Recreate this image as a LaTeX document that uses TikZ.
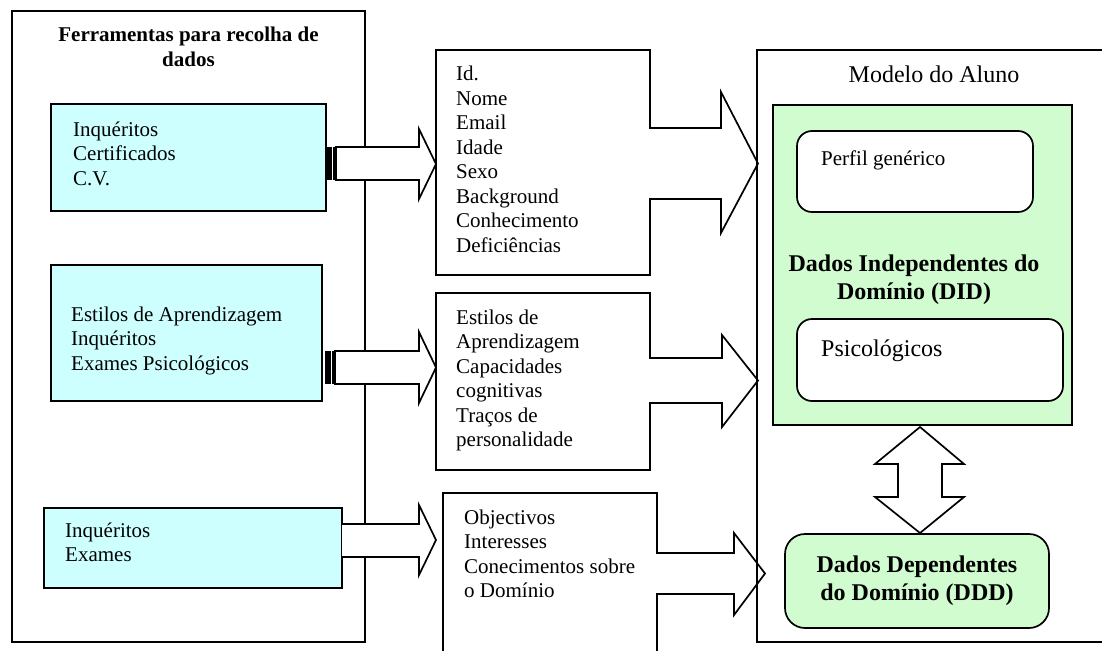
\documentclass[tikz,border=0pt]{standalone}
\usepackage{fontspec}
\setmainfont{Liberation Serif}
\usetikzlibrary{calc}

\definecolor{toolcyan}{RGB}{206,255,255}
\definecolor{modelgreen}{RGB}{208,252,208}

% multi-line text blocks whose baseline is the first line
\newcommand\linesL[1]{\begin{tabular}[t]{@{}l@{}}#1\end{tabular}}
\newcommand\linesC[1]{\begin{tabular}[t]{@{}c@{}}#1\end{tabular}}

\begin{document}
\begin{tikzpicture}[x=1pt,y=-1pt,
  frame/.style={draw, line width=1.7pt, inner sep=0, outer sep=0, anchor=north west},
  area/.style={inner sep=0, outer sep=0, anchor=north west},
  toolbox/.style={frame, line width=1.4pt, fill=toolcyan},
  softbox/.style={frame, fill=white, rounded corners=15pt},
  blockarrow/.style={draw, line width=1.7pt, fill=white, line join=miter},
  txt/.style={inner sep=0, anchor=base west, font=\fontsize{21}{24.5}\selectfont},
  bigtxt/.style={inner sep=0, anchor=base west, font=\fontsize{24}{27.5}\selectfont},
  headtxt/.style={inner sep=0, anchor=base, font=\bfseries\fontsize{21}{24.5}\selectfont},
  bighead/.style={inner sep=0, anchor=base, font=\bfseries\fontsize{24}{28.5}\selectfont},
]
\useasboundingbox (0,0) rectangle (1102,650);
\clip (0,0) rectangle (1102,650);

% ---- data collection tools ----
\node[frame, minimum width=353, minimum height=631] (tools) at (12,11) {};
\node[headtxt] (toolsT) at (188.5,42) {\linesC{Ferramentas para recolha de\\dados}};

\node[toolbox, minimum width=275, minimum height=107] (c1) at (51,104) {};
\node[txt] (c1T) at (73,136) {\linesL{Inquéritos\\Certificados\\C.V.}};

\node[toolbox, minimum width=271, minimum height=136] (c2) at (51,265) {};
\node[txt] (c2T) at (71,321) {\linesL{Estilos de Aprendizagem\\Inquéritos\\Exames Psicológicos}};

\node[toolbox, minimum width=298, minimum height=80] (c3) at (44,508) {};
\node[txt] (c3T) at (65,537) {\linesL{Inquéritos\\Exames}};

% ---- striped arrows from the tools ----
\fill (326,147) rectangle (331.5,180);
\fill (333,147) rectangle (336.5,180);
\draw[blockarrow] (336,147) -- (419,147) -- (419,129) -- (436,164) -- (419,199) -- (419,180) -- (336,180) -- cycle;

\fill (325,351) rectangle (330.5,384);
\fill (332,351) rectangle (335.5,384);
\draw[blockarrow] (335,351) -- (419,351) -- (419,332) -- (436,367.5) -- (419,403) -- (419,384) -- (335,384) -- cycle;

\draw[blockarrow] (c3.east |- 0,524) -- (419,524) -- (419,505) -- (436,540) -- (419,575) -- (419,557) -- (c3.east |- 0,557);

% ---- collected data, boxes with outgoing arrows ----
\node[area, minimum width=214, minimum height=225] (m1) at (436,50) {};
\draw[blockarrow] (m1.east |- 0,199) -- (m1.south east) -- (m1.south west) -- (m1.north west)
  -- (m1.north east) -- (m1.east |- 0,128) -- (721,128) -- (721,92) -- (758,163.5)
  -- (721,233) -- (721,199) -- cycle;
\node[txt] (m1T) at (456,81) {\linesL{Id.\\Nome\\Email\\Idade\\Sexo\\Background\\Conhecimento\\Deficiências}};

\node[area, minimum width=214, minimum height=177] (m2) at (436,293) {};
\draw[blockarrow] (m2.east |- 0,403) -- (m2.south east) -- (m2.south west) -- (m2.north west)
  -- (m2.north east) -- (m2.east |- 0,358) -- (722,358) -- (722,335) -- (758,380.5)
  -- (722,427) -- (722,403) -- cycle;
\node[txt] (m2T) at (456,324) {\linesL{Estilos de\\Aprendizagem\\Capacidades\\cognitivas\\Traços de\\personalidade}};

\node[area, minimum width=214, minimum height=200] (m3) at (443,493) {};
\draw[blockarrow] (m3.east |- 0,594) -- (m3.south east) -- (m3.south west) -- (m3.north west)
  -- (m3.north east) -- (m3.east |- 0,553) -- (734,553) -- (734,533) -- (765,573.5)
  -- (734,615) -- (734,594) -- cycle;
\node[txt] (m3T) at (464,524) {\linesL{Objectivos\\Interesses\\Conecimentos sobre\\o Domínio}};

% ---- student model ----
\node[frame, minimum width=355, minimum height=592] (model) at (757,50) {};
\node[inner sep=0, anchor=base, font=\fontsize{24}{27.5}\selectfont] (modelT) at (934,83) {Modelo do Aluno};

\node[frame, line width=1.4pt, fill=modelgreen, minimum width=299, minimum height=320] (did) at (773,105) {};
\node[softbox, minimum width=236, minimum height=81] (perfil) at (797,131) {};
\node[txt] (perfilT) at (821,165) {Perfil genérico};
\node[bighead] (didT) at (914,271) {\linesC{Dados Independentes do\\Domínio (DID)}};
\node[softbox, minimum width=266, minimum height=82] (psico) at (797,319) {};
\node[bigtxt] (psicoT) at (821,356) {Psicológicos};

\node[frame, fill=modelgreen, rounded corners=20pt, minimum width=264, minimum height=94] (ddd) at (785,534) {};
\node[bighead] (dddT) at (917,572) {\linesC{Dados Dependentes\\do Domínio (DDD)}};

% two-way link between the model parts
\draw[blockarrow] (920,427) -- (964,464) -- (942,464) -- (942,497) -- (964,497) -- (920,533)
  -- (875,497) -- (898,497) -- (898,464) -- (875,464) -- cycle;
\end{tikzpicture}
\end{document}
